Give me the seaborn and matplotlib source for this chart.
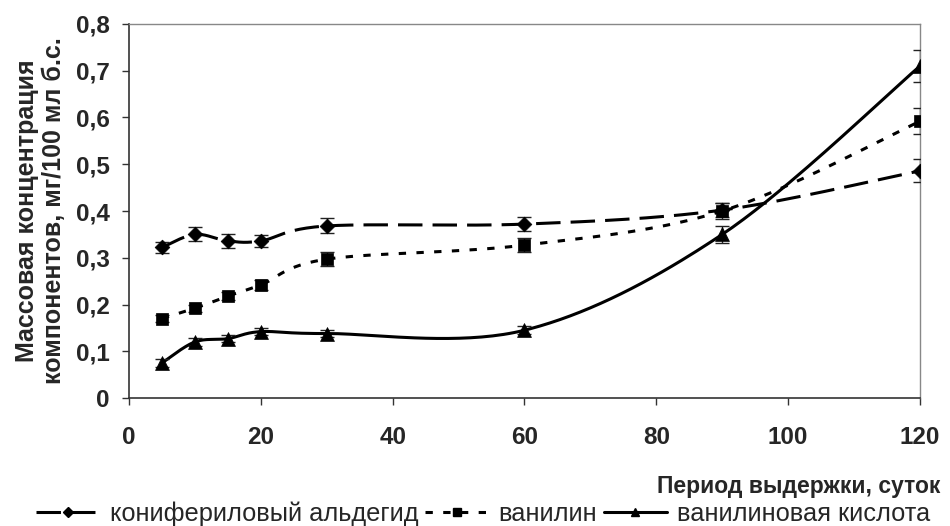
import numpy as np
import pandas as pd
import seaborn as sns
import matplotlib
matplotlib.use("Agg")
import matplotlib.pyplot as plt
from matplotlib.lines import Line2D
from matplotlib.ticker import FuncFormatter

# Storage period, days
days = [5, 10, 15, 20, 30, 60, 90, 120]

# Mass concentration, mg/100 ml absolute alcohol
coniferyl = [0.322, 0.350, 0.336, 0.336, 0.368, 0.372, 0.402, 0.486]
coniferyl_err = [0.012, 0.015, 0.015, 0.012, 0.016, 0.015, 0.015, 0.025]

vanillin = [0.170, 0.192, 0.218, 0.242, 0.297, 0.327, 0.400, 0.592]
vanillin_err = [0.008, 0.008, 0.008, 0.010, 0.015, 0.015, 0.018, 0.028]

vanillic = [0.075, 0.120, 0.127, 0.142, 0.138, 0.145, 0.350, 0.710]
vanillic_err = [0.008, 0.008, 0.008, 0.008, 0.008, 0.008, 0.018, 0.035]

series_names = ["конифериловый альдегид", "ванилин", "ванилиновая кислота"]
y_ticks = [0, 0.1, 0.2, 0.3, 0.4, 0.5, 0.6, 0.7, 0.8]
x_ticks = [0, 20, 40, 60, 80, 100, 120]


def smooth_curve(x, y, n=40):
    """Cubic Bezier smoothing through every point (Catmull-Rom style)."""
    x = np.asarray(x, float)
    y = np.asarray(y, float)
    pts = np.column_stack([x, y])
    out = []
    for i in range(len(pts) - 1):
        p0 = pts[i - 1] if i > 0 else pts[i]
        p1 = pts[i]
        p2 = pts[i + 1]
        p3 = pts[i + 2] if i + 2 < len(pts) else pts[i + 1]
        c1 = p1 + (p2 - p0) / 6.0
        c2 = p2 - (p3 - p1) / 6.0
        t = np.linspace(0, 1, n)[:, None]
        seg = ((1 - t) ** 3) * p1 + 3 * ((1 - t) ** 2) * t * c1 + 3 * (1 - t) * t ** 2 * c2 + t ** 3 * p2
        out.append(seg if i == 0 else seg[1:])
    seg = np.vstack(out)
    return seg[:, 0], seg[:, 1]


sns.set_theme(style="white")
plt.rcParams["font.family"] = ["Liberation Sans", "DejaVu Sans"]

fig = plt.figure(figsize=(9.5, 5.26), dpi=100)
ax = fig.add_axes([0.1358, 0.2433, 0.8326, 0.7111])

LW = 2.2
styles = [
    dict(values=coniferyl, err=coniferyl_err, marker="D", ms=7.5, dashes=(8, 3.3)),
    dict(values=vanillin, err=vanillin_err, marker="s", ms=9, dashes=(2.4, 3.4)),
    dict(values=vanillic, err=vanillic_err, marker="^", ms=10, dashes=None),
]

for name, st in zip(series_names, styles):
    sx, sy = smooth_curve(days, st["values"])
    curve = pd.DataFrame({"day": sx, "value": sy})
    sns.lineplot(data=curve, x="day", y="value", sort=False, estimator=None,
                 ax=ax, legend=False, color="black", linewidth=LW)
    if st["dashes"] is not None:
        ax.lines[-1].set_dashes(st["dashes"])
    ax.errorbar(days, st["values"], yerr=st["err"], fmt="none", ecolor="#222222",
                elinewidth=1.0, capsize=5, capthick=1.0, zorder=3)
    sns.scatterplot(x=days, y=st["values"], marker=st["marker"], s=st["ms"] ** 2,
                    color="black", edgecolor="black", linewidth=0.5, ax=ax,
                    zorder=4, legend=False)

ax.set_xlim(0, 120)
ax.set_ylim(0, 0.8)
ax.set_xticks(x_ticks)
ax.set_yticks(y_ticks)
ax.yaxis.set_major_formatter(FuncFormatter(lambda v, p: "0" if v == 0 else f"{v:.1f}".replace(".", ",")))
ax.tick_params(axis="both", which="major", direction="out", length=5, width=1,
               color="#333333", labelsize=17.5, bottom=True, left=True)
ax.tick_params(axis="x", pad=15)
ax.tick_params(axis="y", pad=9)
for lab in ax.get_xticklabels() + ax.get_yticklabels():
    lab.set_fontweight("bold")

for side in ["left", "bottom"]:
    ax.spines[side].set_color("#333333")
    ax.spines[side].set_linewidth(1.2)
for side in ["top", "right"]:
    ax.spines[side].set_color("#888888")
    ax.spines[side].set_linewidth(1.0)

ax.set_xlabel("")
ax.set_ylabel("Массовая концентрация\nкомпонентов, мг/100 мл б.с.",
              fontsize=18, fontweight="bold", labelpad=7, linespacing=1.15)
fig.text(0.99, 0.063, "Период выдержки, суток", ha="right", va="baseline",
         fontsize=16.5, fontweight="bold")

handles = [
    Line2D([0], [0], color="black", lw=LW, dashes=(8, 3.3), marker="D", ms=5),
    Line2D([0], [0], color="black", lw=LW, dashes=(2.4, 3.4), marker="s", ms=6),
    Line2D([0], [0], color="black", lw=LW, marker="^", ms=6),
]
fig.legend(handles, series_names, loc="center", bbox_to_anchor=(0.509, 0.024),
           ncol=3, frameon=False, fontsize=18.3, handlelength=2.5,
           handletextpad=0.4, columnspacing=0.25, borderpad=0, borderaxespad=0)

fig.savefig("out.png", dpi=100, facecolor="white")
